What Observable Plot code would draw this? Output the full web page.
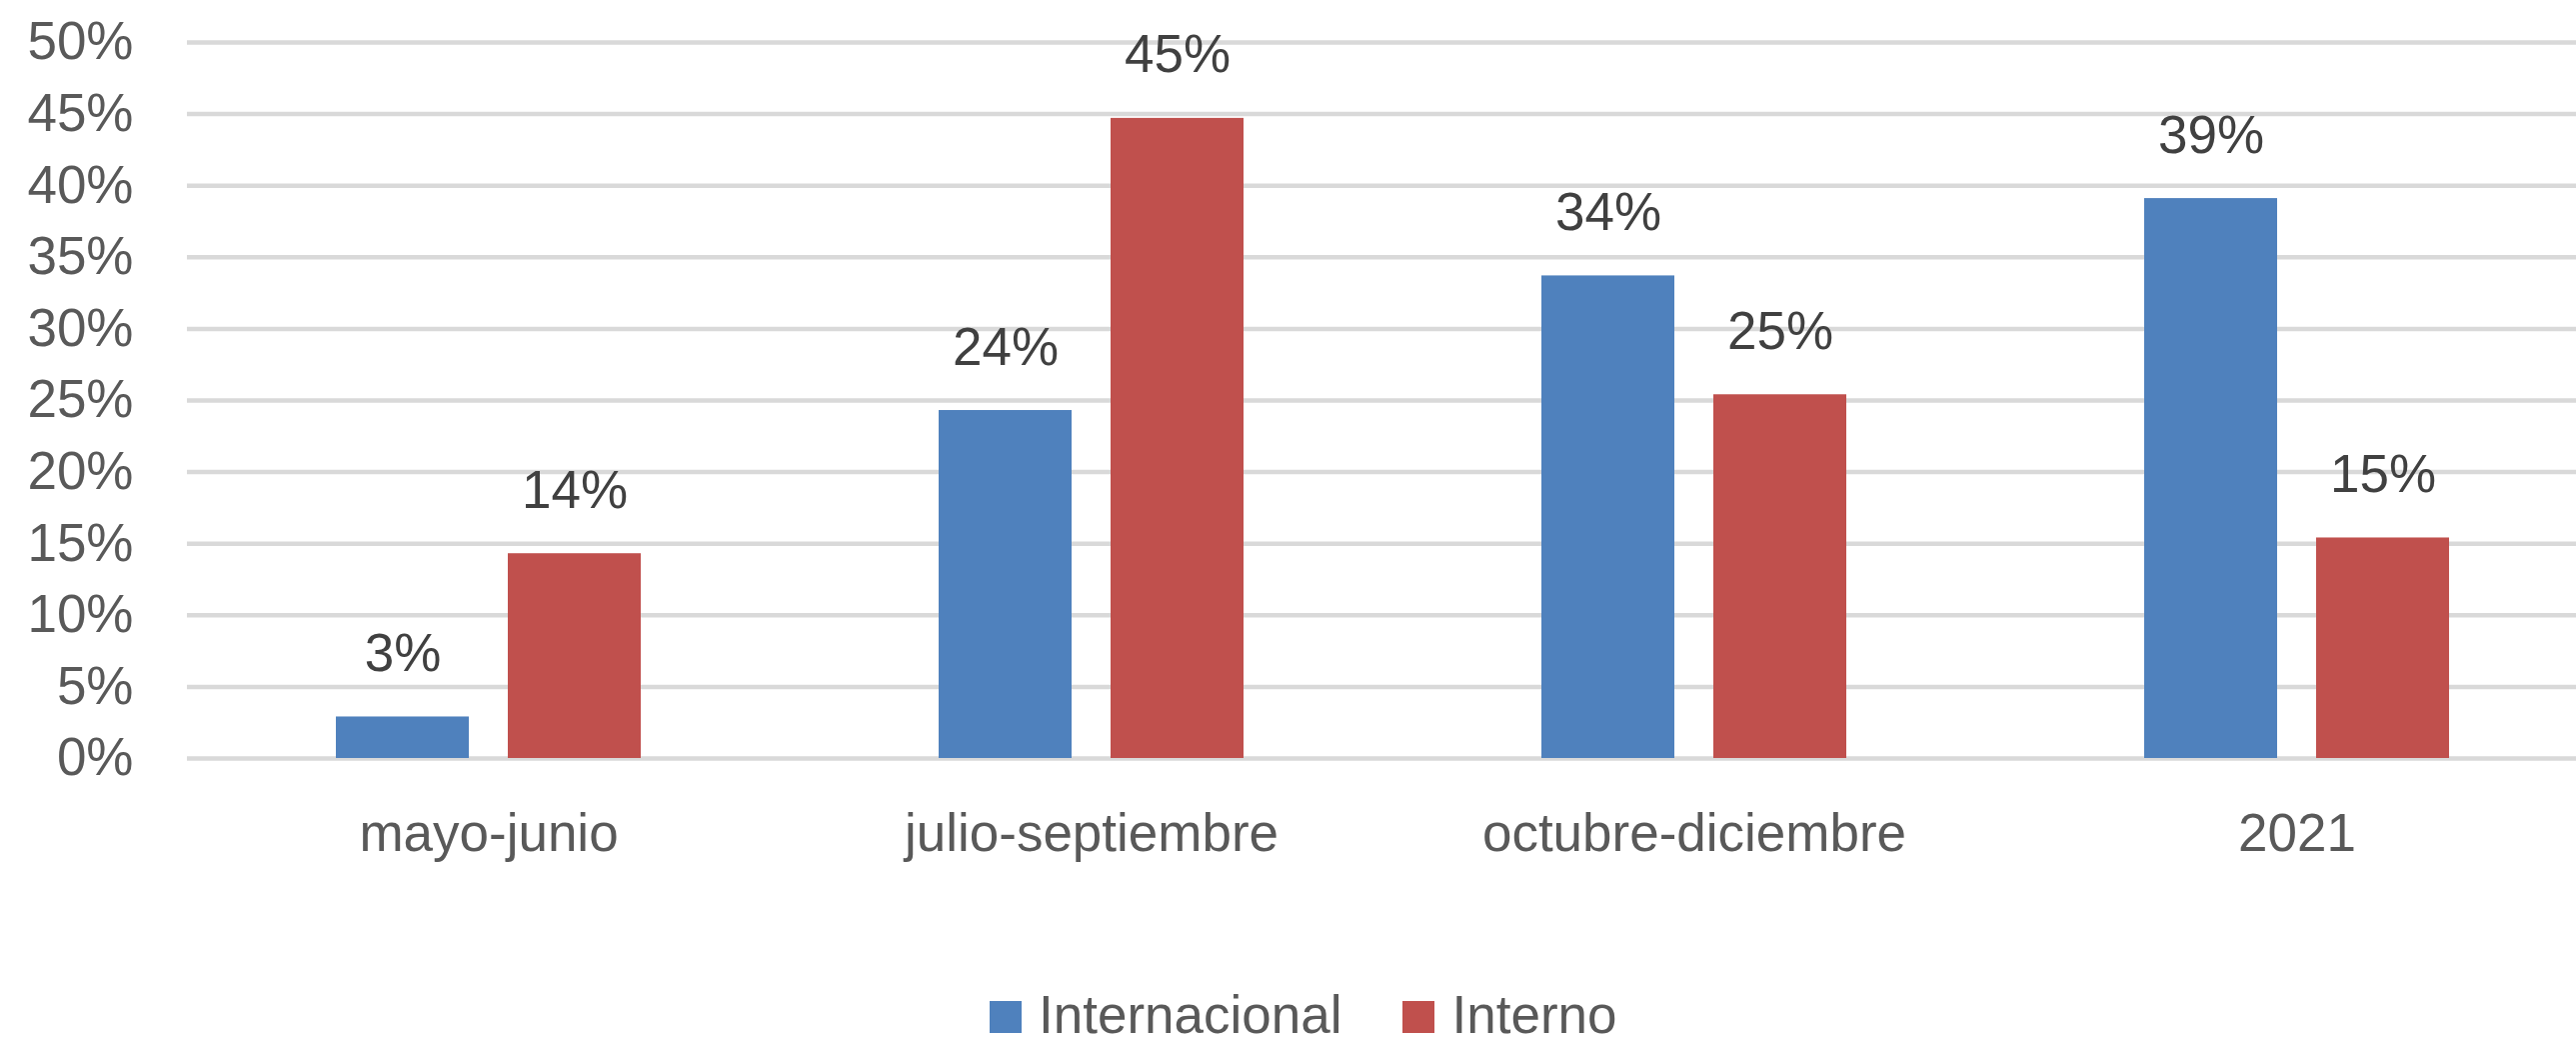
<!DOCTYPE html>
<html>
<head>
<meta charset="utf-8">
<script src="https://cdn.jsdelivr.net/npm/d3@7"></script>
<script src="https://cdn.jsdelivr.net/npm/@observablehq/plot@0.6"></script>
<style>
  html, body { margin: 0; padding: 0; background: #fff; }
  body { width: 2577px; height: 1039px; position: relative; overflow: hidden; font-family: "Liberation Sans", Arial, sans-serif; }
  #legend { position: absolute; left: 990px; top: 988px; display: flex; align-items: center; font-size: 53px; line-height: 1; color: #595959; }
  #legend .item { display: flex; align-items: center; margin-right: 61px; }
  #legend .sw { width: 32px; height: 32px; margin-right: 17px; margin-top: 4px; }
</style>
</head>
<body>
<div id="chart"></div>
<div id="legend"></div>
<script>
const categories = ["mayo-junio", "julio-septiembre", "octubre-diciembre", "2021"];
const seriesNames = ["Internacional", "Interno"];
const internacional = [0.029, 0.243, 0.337, 0.391];
const interno = [0.143, 0.447, 0.254, 0.154];
const seriesColors = ["#4F81BD", "#C0504D"];
const yTicks = [0, 0.05, 0.10, 0.15, 0.20, 0.25, 0.30, 0.35, 0.40, 0.45, 0.50];

const data = [];
categories.forEach((c, i) => {
  data.push({category: c, series: seriesNames[0], value: internacional[i]});
  data.push({category: c, series: seriesNames[1], value: interno[i]});
});

const chart = Plot.plot({
  width: 2577,
  height: 900,
  marginTop: 42,
  marginBottom: 142,
  marginLeft: 187,
  marginRight: -22,
  style: {fontFamily: "'Liberation Sans', Arial, sans-serif", background: "#fff"},
  fx: {domain: categories, paddingInner: 0, paddingOuter: 0, label: null, axis: null},
  x: {domain: seriesNames, paddingInner: 0.2267, paddingOuter: 0.866, axis: null},
  y: {domain: [0, 0.5], ticks: yTicks, axis: null},
  color: {domain: seriesNames, range: seriesColors},
  marks: [
    Plot.gridY(yTicks, {stroke: "#D9D9D9", strokeOpacity: 1, strokeWidth: 4.5}),
    Plot.barY(data, {fx: "category", x: "series", y: "value", fill: "series"}),
    Plot.text(data, {fx: "category", x: "series", y: "value", text: d => d3.format(".0%")(d.value),
      lineAnchor: "bottom", dy: -46, fontSize: 53, fill: "#404040"}),
    Plot.axisY(yTicks, {facetAnchor: "left", tickSize: 0, tickPadding: 54, tickFormat: d3.format(".0%"),
      fontSize: 53, fill: "#595959", label: null}),
    Plot.axisFx({anchor: "bottom", tickSize: 0, tickPadding: 55, fontSize: 53, fill: "#595959", label: null})
  ]
});
document.getElementById("chart").appendChild(chart);

const legend = document.getElementById("legend");
seriesNames.forEach((s, i) => {
  const item = document.createElement("div");
  item.className = "item";
  const sw = document.createElement("span");
  sw.className = "sw";
  sw.style.background = seriesColors[i];
  const t = document.createElement("span");
  t.textContent = s;
  item.appendChild(sw);
  item.appendChild(t);
  legend.appendChild(item);
});
</script>
</body>
</html>
